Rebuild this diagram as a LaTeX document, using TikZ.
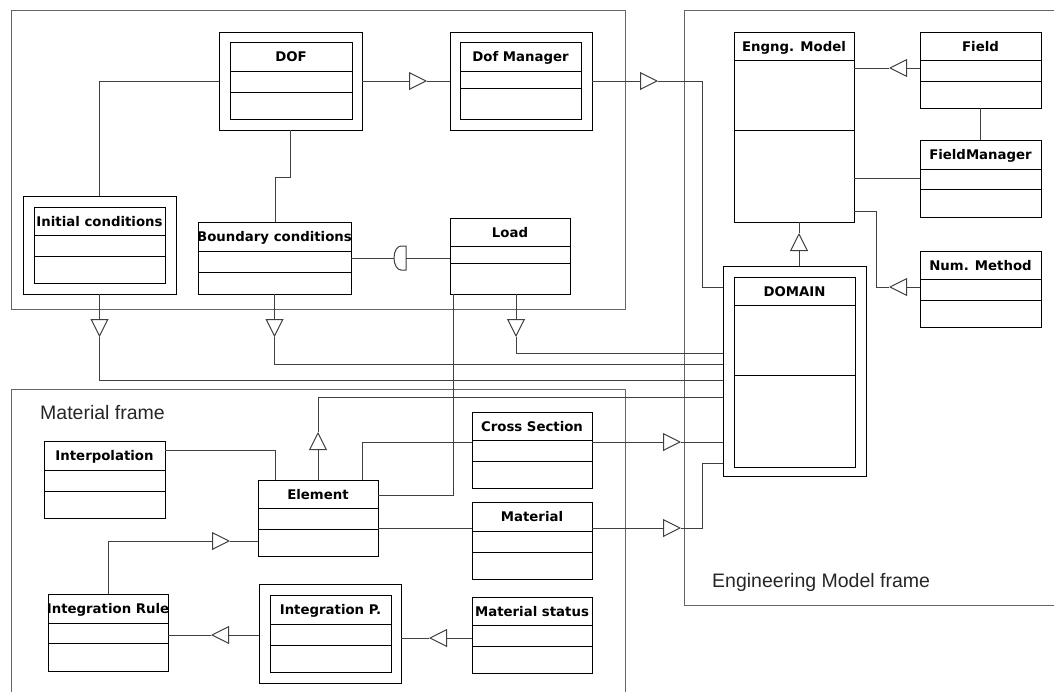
\documentclass[tikz,border=0pt]{standalone}
\usepackage{fontspec}
\setmainfont{DejaVu Sans}
\newfontfamily\helv{Liberation Sans}
\usetikzlibrary{arrows.meta}
\newcommand\ubox[8]{%
  \node[classbox, minimum width={(#4)-(#2)}, minimum height={(#5)-(#3)}] (#1) at ({((#2)+(#4))/2},{((#3)+(#5))/2}) {};
  \draw[divline] (#2,#6) -- (#4,#6) (#2,#7) -- (#4,#7);
  \node[clabel] (#1-t) at ({((#2)+(#4))/2},{((#3)+(#6))/2+5}) {#8};}
\newcommand\obox[5]{%
  \node[classbox, minimum width={(#4)-(#2)}, minimum height={(#5)-(#3)}] (#1) at ({((#2)+(#4))/2},{((#3)+(#5))/2}) {};}
\begin{document}
\begin{tikzpicture}[x=1pt,y=-1pt,
  frame/.style={draw=black!60, line width=1pt},
  conn/.style={draw=black!75, line width=1pt},
  gen/.style={conn, -{Triangle[open,length=18pt,width=18pt]}},
  classbox/.style={draw=black, line width=1pt, fill=white, inner sep=0pt, outer sep=0pt},
  divline/.style={draw=black, line width=1pt},
  clabel/.style={font=\fontsize{13.3}{15}\selectfont\bfseries, anchor=base, inner sep=0pt},
  flabel/.style={font=\helv\fontsize{19.5}{22}\selectfont, anchor=base west, inner sep=0pt, text=black!85}]
\useasboundingbox (0,0) rectangle (1054,691);
\clip (0,0) rectangle (1054,691);
\fill[white] (0,0) rectangle (1054,691);
% frames
\draw[frame] (11,10) rectangle (625,309);
\draw[frame] (684,10) rectangle (1070,605);
\draw[frame] (11,389) rectangle (625,710);
\node[flabel] (mflab) at (40,419) {Material frame};
\node[flabel] (eflab) at (712,587) {Engineering Model frame};
% class boxes
\obox{dofo}{219}{32}{362}{130}
\ubox{dof}{230}{42}{352}{119}{71}{92}{DOF}
\obox{dofmo}{450}{32}{592}{130}
\ubox{dofm}{460}{42}{581}{119}{71}{88}{Dof Manager}
\obox{ico}{23}{196}{176}{294}
\ubox{ic}{34}{207}{165}{283}{235}{256}{Initial conditions}
\ubox{bc}{198}{222}{351}{294}{251}{272}{Boundary conditions}
\ubox{load}{450}{218}{570}{294}{246}{263}{Load}
\ubox{em}{734}{32}{854}{222}{60}{130}{Engng. Model}
\ubox{field}{920}{32}{1041}{108}{60}{81}{Field}
\ubox{fm}{920}{140}{1041}{217}{169}{189}{FieldManager}
\ubox{nm}{920}{251}{1041}{327}{279}{300}{Num. Method}
\obox{domo}{723}{266}{866}{476}
\ubox{dom}{734}{277}{855}{467}{305}{375}{DOMAIN}
\ubox{interp}{44}{441}{165}{518}{470}{491}{Interpolation}
\ubox{elem}{258}{480}{378}{556}{508}{529}{Element}
\ubox{cs}{472}{412}{592}{488}{440}{461}{Cross Section}
\ubox{mat}{472}{502}{592}{579}{531}{552}{Material}
\ubox{ms}{472}{597}{592}{673}{625}{646}{Material status}
\obox{ipo}{259}{584}{401}{683}
\ubox{ip}{270}{595}{391}{672}{624}{645}{Integration P.}
\ubox{ir}{48}{594}{168}{671}{623}{643}{Integration Rule}
% connectors
\draw[conn] (dofo.west) -| (ico.north);
\draw[conn] (dofo.south) |- (275,177) -- (bc.north -| 275,0);
\draw[gen] (dofo.east) -- (427,81);
\draw[conn] (427,81) -- (dofmo.west);
\draw[gen] (dofmo.east) -- (658,81);
\draw[conn] (658,81) -- (702,81) -- (702,287) -- (domo.west |- 0,287);
\draw[conn] (bc.east |- 0,258) -- (394,258);
\draw[conn] (406,246) -- (401,246) arc[start angle=90, end angle=270, x radius=7pt, y radius=12pt] -- (406,270) -- cycle;
\draw[conn] (406,258) -- (load.west |- 0,258);
\draw[conn] (load.south -| 453,0) |- (elem.east |- 0,495);
\draw[gen] (load.south -| 516,0) -- (516,337);
\draw[conn] (516,337) |- (domo.west |- 0,353);
\draw[gen] (ico.south) -- (99.5,337);
\draw[conn] (99.5,337) |- (domo.west |- 0,380);
\draw[gen] (bc.south) -- (274.5,337);
\draw[conn] (274.5,337) |- (domo.west |- 0,364);
\draw[gen] (elem.north) -- (318,432);
\draw[conn] (318,432) |- (domo.west |- 0,397);
\draw[gen] (cs.east |- 0,442) -- (681,442);
\draw[conn] (681,442) -- (domo.west |- 0,442);
\draw[gen] (mat.east |- 0,528) -- (681,528);
\draw[conn] (681,528) -- (702,528) |- (domo.west |- 0,463);
\draw[gen] (domo.north -| 799,0) -- (799,233);
\draw[conn] (799,233) -- (em.south -| 799,0);
\draw[gen] (field.west |- 0,68) -- (889,68);
\draw[conn] (889,68) -- (em.east |- 0,68);
\draw[conn] (field.south) -- (fm.north);
\draw[conn] (em.east |- fm.west) -- (fm.west);
\draw[conn] (em.east |- 0,211) -| (876,287) -- (889,287);
\draw[gen] (nm.west |- 0,287) -- (889,287);
\draw[conn] (interp.east |- 0,450) -| (elem.north -| 275,0);
\draw[conn] (elem.north -| 362,0) |- (cs.west |- 0,442);
\draw[conn] (elem.east |- 0,528) -- (mat.west |- 0,528);
\draw[gen] (ms.west |- 0,638) -- (429,638);
\draw[conn] (429,638) -- (ipo.east |- 0,638);
\draw[gen] (ipo.west |- 0,635) -- (211,635);
\draw[conn] (211,635) -- (ir.east |- 0,635);
\draw[gen] (ir.north) |- (230,541);
\draw[conn] (230,541) -- (elem.west |- 0,541);
\end{tikzpicture}
\end{document}
